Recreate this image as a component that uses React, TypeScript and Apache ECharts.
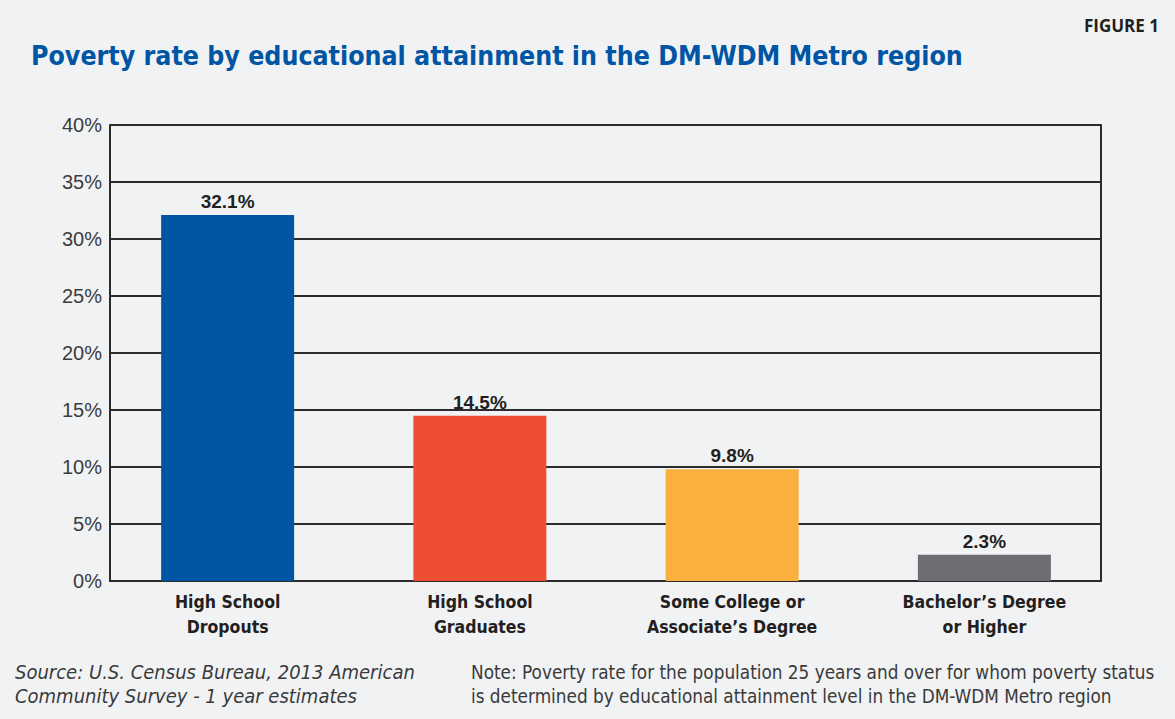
import React, { useEffect, useRef } from "react";
import * as echarts from "echarts";

const categories = [
  "High School\nDropouts",
  "High School\nGraduates",
  "Some College or\nAssociate’s Degree",
  "Bachelor’s Degree\nor Higher",
];
const values = [32.1, 14.5, 9.8, 2.3];
const barColors = ["#0055a5", "#ee4e32", "#f9b03d", "#6e6e72"];
const yTicks = { min: 0, max: 40, interval: 5 };

const condensed = "'DejaVu Sans Condensed', 'Liberation Sans', sans-serif";

export default function App() {
  const ref = useRef<HTMLDivElement>(null);
  useEffect(() => {
    if (!ref.current) return;
    const chart = echarts.init(ref.current, null, { renderer: "svg" });
    const gridLeft = 110, gridRight = 74, top = 125, bottom = 138;
    chart.setOption({
      animation: false,
      backgroundColor: "#f1f2f4",
      title: [
        {
          text: "Poverty rate by educational attainment in the DM-WDM Metro region",
          left: 26,
          top: 37,
          textStyle: { color: "#0055a5", fontSize: 26.5, fontWeight: "bold", fontFamily: condensed },
        },
        {
          text: "FIGURE 1",
          right: 11,
          top: 12,
          textStyle: { color: "#231f20", fontSize: 17, fontWeight: "bold", fontFamily: "'Open Sans', sans-serif" },
        },
        {
          text: "Source: U.S. Census Bureau, 2013 American\nCommunity Survey - 1 year estimates",
          left: 10,
          top: 655,
          textStyle: { color: "#3a3a3a", fontSize: 20, fontStyle: "italic", fontWeight: "normal", fontFamily: condensed, lineHeight: 24 },
        },
        {
          text: "Note: Poverty rate for the population 25 years and over for whom poverty status\nis determined by educational attainment level in the DM-WDM Metro region",
          left: 466,
          top: 655,
          textStyle: { color: "#3a3a3a", fontSize: 18.8, fontWeight: "normal", fontFamily: condensed, lineHeight: 24 },
        },
      ],
      grid: [
        { left: gridLeft, right: gridRight, top, bottom },
        { left: 101.5, right: 64.5, top, bottom },
      ],
      xAxis: [
        {
          type: "category",
          gridIndex: 0,
          data: categories,
          axisLine: { show: true, lineStyle: { color: "#2b2b2b", width: 2 } },
          axisTick: { show: false },
          axisLabel: { show: false },
        },
        {
          type: "category",
          gridIndex: 1,
          data: categories,
          axisLine: { show: false },
          axisTick: { show: false },
          axisLabel: {
            margin: 8,
            color: "#231f20",
            fontSize: 17.5,
            fontWeight: "bold",
            fontFamily: condensed,
            lineHeight: 25,
          },
        },
      ],
      yAxis: [
        {
          type: "value",
          gridIndex: 0,
          ...yTicks,
          axisLine: { show: true, lineStyle: { color: "#2b2b2b", width: 2 } },
          axisTick: { show: false },
          axisLabel: {
            formatter: "{value}%",
            fontSize: 20,
            color: "#3c3c3c",
            margin: 8,
            fontFamily: "'Liberation Sans', sans-serif",
          },
          splitLine: { show: true, lineStyle: { color: "#2b2b2b", width: 1.8 } },
        },
        {
          type: "value",
          gridIndex: 0,
          position: "right",
          ...yTicks,
          axisLine: { show: true, lineStyle: { color: "#2b2b2b", width: 2 } },
          axisTick: { show: false },
          axisLabel: { show: false },
          splitLine: { show: false },
        },
        {
          type: "value",
          gridIndex: 1,
          ...yTicks,
          show: false,
          splitLine: { show: false },
        },
      ],
      series: [
        {
          type: "bar",
          xAxisIndex: 1,
          yAxisIndex: 2,
          barWidth: 133,
          data: values.map((v, i) => ({ value: v, itemStyle: { color: barColors[i] } })),
          label: {
            show: true,
            position: "top",
            distance: 4,
            formatter: (p: any) => `${p.value}%`,
            color: "#231f20",
            fontSize: 19,
            fontWeight: "bold",
            fontFamily: "'Liberation Sans', sans-serif",
          },
        },
      ],
    });
    return () => chart.dispose();
  }, []);
  return (
    <div
      ref={ref}
      style={{ position: "absolute", left: 0, top: 0, width: 1175, height: 719 }}
    />
  );
}
